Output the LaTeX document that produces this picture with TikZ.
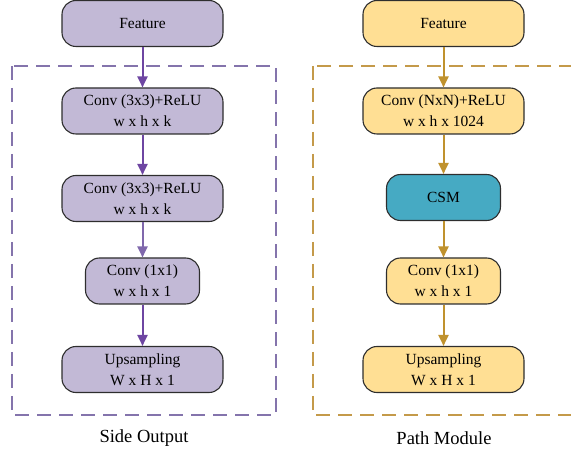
\documentclass[tikz,border=0pt]{standalone}
\usepackage{fontspec}
\setmainfont{Liberation Serif}
\usetikzlibrary{arrows.meta}
\definecolor{pfill}{HTML}{C2B9D6}
\definecolor{parrow}{HTML}{6E46A2}
\definecolor{parrowl}{HTML}{8068AC}
\definecolor{pdash}{HTML}{8474AC}
\definecolor{ofill}{HTML}{FFDF94}
\definecolor{oarrow}{HTML}{C0922E}
\definecolor{odash}{HTML}{C49A4A}
\definecolor{cfill}{HTML}{46AAC3}
\definecolor{bord}{HTML}{2E2E2E}
\tikzset{
  blk/.style={draw=bord, line width=1.1pt, rounded corners=14pt, align=center,
    font=\fontsize{15.5}{21}\selectfont, inner sep=0pt, text=black},
  wide/.style={blk, minimum width=161pt, minimum height=46pt},
  narrow/.style={blk, minimum width=114pt, minimum height=46pt},
  parr/.style={line width=2pt, -{Triangle[length=11pt,width=10pt]}},
  dbox/.style={line width=1.5pt, dash pattern=on 14pt off 8pt},
  lbl/.style={font=\fontsize{18.5}{22}\selectfont}
}
\begin{document}
\begin{tikzpicture}[x=1pt,y=-1pt]
\useasboundingbox (0,0) rectangle (571,454);
% dashed containers
\draw[dbox, draw=pdash] (12,66) rectangle (276,415);
\draw[dbox, draw=odash] (313,66) rectangle (600,415);
% left column
\node[wide, fill=pfill] (lf) at (142.5,23.5) {Feature};
\node[wide, fill=pfill] (lc1) at (142.5,111) {Conv (3x3)+ReLU\\w x h x k};
\node[wide, fill=pfill] (lc2) at (142.5,198.5) {Conv (3x3)+ReLU\\w x h x k};
\node[narrow, fill=pfill] (lc3) at (142.5,281) {Conv (1x1)\\w x h x 1};
\node[wide, fill=pfill] (lu) at (142.5,369.5) {Upsampling\\W x H x 1};
\node[lbl] (ll) at (144,438) {Side Output};
\draw[parr, draw=parrow, fill=parrow] (lf) -- (lc1);
\draw[parr, draw=parrow, fill=parrow] (lc1) -- (lc2);
\draw[parr, draw=parrowl, fill=parrowl] (lc2) -- (lc3);
\draw[parr, draw=parrow, fill=parrow] (lc3) -- (lu);
% right column
\node[wide, fill=ofill] (rf) at (443.5,23.5) {Feature};
\node[wide, fill=ofill] (rc1) at (443.5,111) {Conv (NxN)+ReLU\\w x h x 1024};
\node[narrow, fill=cfill] (rcsm) at (443.5,197.5) {CSM};
\node[narrow, fill=ofill] (rc3) at (443.5,281) {Conv (1x1)\\w x h x 1};
\node[wide, fill=ofill] (ru) at (443.5,369.5) {Upsampling\\W x H x 1};
\node[lbl] (rl) at (444,438) {Path Module};
\draw[parr, draw=oarrow, fill=oarrow] (rf) -- (rc1);
\draw[parr, draw=oarrow, fill=oarrow] (rc1) -- (rcsm);
\draw[parr, draw=oarrow, fill=oarrow] (rcsm) -- (rc3);
\draw[parr, draw=oarrow, fill=oarrow] (rc3) -- (ru);
\end{tikzpicture}
\end{document}
